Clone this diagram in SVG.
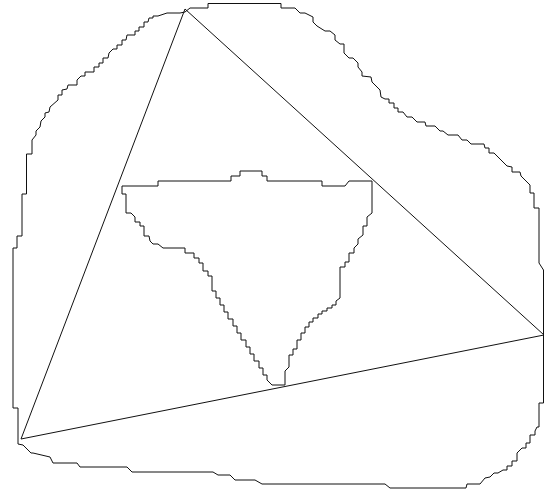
<svg xmlns="http://www.w3.org/2000/svg" width="547" height="494" viewBox="0 0 547 494">
<style>
.s{fill:none;stroke:#111;stroke-width:1;stroke-linejoin:miter}
</style>
<rect width="547" height="494" fill="#fff"/>
<g id="outer">
<polygon class="s" points="185,12 190,8 208,8 208,3.5 281,3.5 281,8 295,8 300,13 305,13 313,17 313,22 317,26 325,31 330,31 335,35 335,40 340,44 344,44 344,53 349,58 353,58 358,63 358,67 362,72 362,76 371,77 372,82 380,90 381,97 385,99 389,99 389,103 394,103 394,108 398,108 398,112 403,112 407,117 412,117 417,122 425,122 426,126 435,126 440,131 443,131 448,135 458,135 462,140 467,140 471,144 484,144 485,148 489,148 489,153 494,153 507,166 512,167 512,172 520,172 521,176 530,185 530,193 534,193 534,208 539,208 539,263 543.5,270 543.5,403 539,403 539,427 537,427 535,431 535,435 530,435 530,443 526,443 526,448 522,448 517,453 517,461 512,461 512,466 507,466 507,470 503,470 498,473 494,473 490,477 485,478 480,484 467,484 466,488 390,488 385,484 262,484 255,480 235,480 230,475 218,475 213,472 132,472 127,467 80,467 77,463 53,463 50,457 33,453 31,453 23,445 18,444 18,408 13,408 13,248 17,248 17,236 22,236 22,194 26.5,194 26.5,154 32,154 32,140 36,135 36,131 40,127 41,121 45,117 45,113 49,112 50,107 58,100 58,95 62,95 62,90 67,89 68,85 77,85 77,80 81,76 85,76 85,72 94,72 94,67 99,67 99,63 103,63 103,58 108,58 109,53 113,49 117,49 117,45 122,45 122,40 126,40 127,35 135,35 135,31 139,31 139,27 144,27 144,22 148,22 149,18 153,18 153,16 158,16 167,13 180,13"/>
</g>
<g id="inner">
<polygon class="s" points="372,181 349,181 345,186 322,186 322,181 267,181 267,176 262,176 262,171 240,171 240,176 231,176 231,181 158,181 158,186 122,186 122,194 126,194 126,213 131,213 135,217 135,222 140,222 140,226 144,226 144,236 149,236 150,241 153,244 158,244 163,248 185,248 185,253 194,253 194,258 199,258 199,263 203,263 203,271 208,271 208,276 212,276 212,291 216,291 216,298 220,298 220,305 224,305 224,312 228,312 228,319 233,319 233,326 237,326 237,333 241,333 241,340 246,340 246,347 250,347 250,354 254,354 254,361 259,361 259,368 263,368 263,375 267,375 267,380 272,385 285,385 285,371 289,367 289,355 293,355 293,349 297,349 297,340 301,340 301,333 305,333 305,327 309,327 309,322 313,322 313,318 318,318 318,314 322,314 322,311 327,311 327,308 332,308 332,305 336,305 336,301 340,298 340,267 345,267 345,262 349,262 349,253 354,253 354,248 358,244 358,239 363,235 363,226 367,226 367,217 372,213"/>
</g>
<g id="connectors">
<polygon class="s" points="185,9 544,335 21,439"/>
</g>
</svg>
